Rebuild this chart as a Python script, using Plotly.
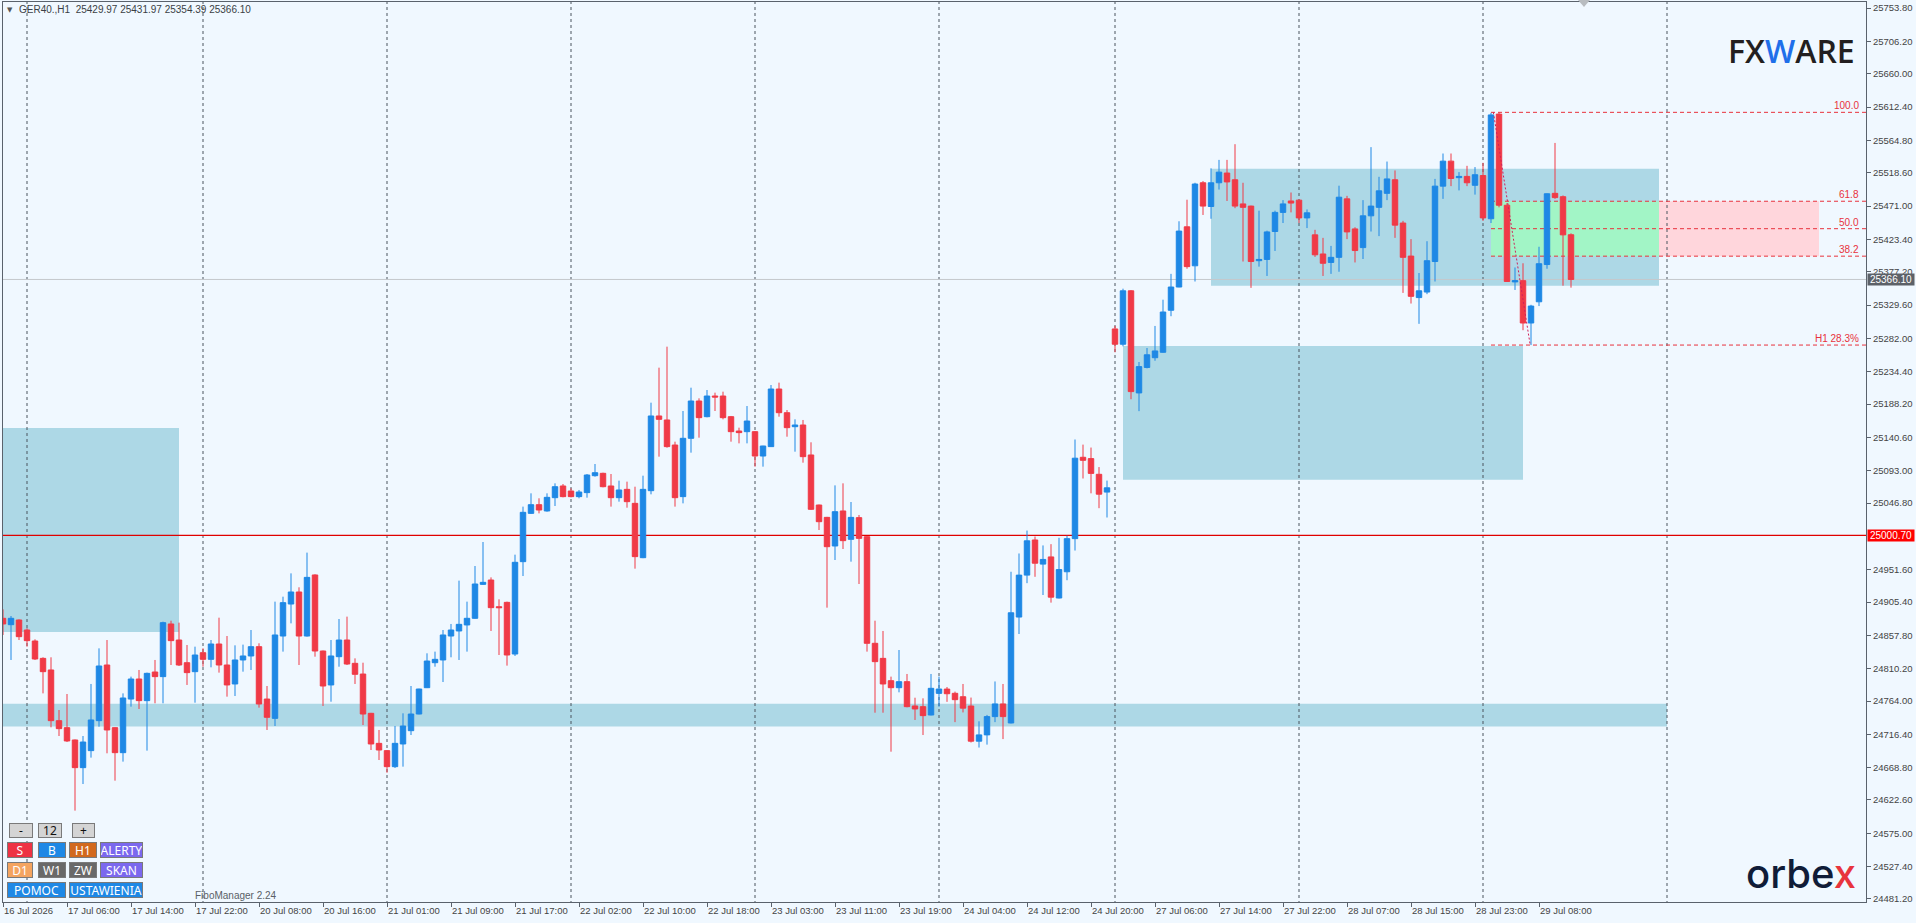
import plotly.graph_objects as go

# ---------------- DATA ----------------
opens = [24882.1, 24873.0, 24879.7, 24865.4, 24849.7, 24824.9, 24808.3, 24735.9, 24725.9, 24708.3,
         24668.8, 24693.1, 24735.9, 24815.4, 24725.9, 24690.2, 24766.8, 24795.4, 24764.5, 24805.4,
         24798.8, 24874.0, 24851.1, 24818.7, 24805.9, 24833.0, 24823.5, 24845.4, 24815.4, 24788.3,
         24822.6, 24828.3, 24841.6, 24766.8, 24739.2, 24856.8, 24902.5, 24919.7, 24856.8, 24944.0,
         24835.4, 24786.9, 24827.3, 24851.1, 24817.8, 24802.5, 24746.4, 24703.5, 24693.1, 24670.2,
         24702.6, 24721.6, 24745.4, 24783.0, 24818.7, 24822.6, 24856.8, 24864.0, 24872.6, 24882.1,
         24930.6, 24936.8, 24898.7, 24904.9, 24831.1, 24963.0, 25032.0, 25044.4, 25035.4, 25054.4,
         25071.1, 25063.9, 25055.9, 25061.6, 25085.8, 25089.2, 25071.1, 25054.4, 25066.3, 25046.3,
         24968.7, 25064.4, 25171.1, 25165.4, 25129.6, 25055.9, 25139.2, 25192.5, 25170.1, 25199.6,
         25199.6, 25170.1, 25149.6, 25148.7, 25148.7, 25113.9, 25127.3, 25209.6, 25175.8, 25155.8,
         25158.2, 25115.4, 25043.9, 25026.3, 24985.4, 25035.4, 24994.9, 25025.9, 24998.7, 24846.4,
         24824.9, 24793.0, 24783.0, 24791.6, 24756.9, 24755.9, 24744.0, 24774.9, 24781.0, 24775.0,
         24770.1, 24756.8, 24706.6, 24715.6, 24741.7, 24759.8, 24732.6, 24883.9, 24943.8, 24994.0,
         24959.5, 24969.8, 24911.1, 24948.6, 24995.9, 25112.1, 25110.2, 25087.8, 25062.4, 25295.4,
         25273.6, 25349.9, 25204.0, 25240.4, 25254.3, 25262.1, 25322.1, 25355.3, 25441.3, 25385.6,
         25504.2, 25470.3, 25504.2, 25518.1, 25508.5, 25474.0, 25470.9, 25392.9, 25394.7, 25434.6,
         25461.9, 25478.2, 25479.4, 25454.0, 25429.8, 25402.5, 25390.4, 25397.7, 25481.2, 25438.3,
         25411.6, 25457.0, 25469.1, 25489.1, 25508.5, 25446.7, 25399.5, 25340.2, 25348.1, 25391.7,
         25499.4, 25535.1, 25511.5, 25513.3, 25500.6, 25514.5, 25452.8, 25602.3, 25472.1, 25362.6,
         25364.4, 25303.9, 25334.2, 25387.4, 25489.1, 25484.3, 25429.97]

highs = [24894.9, 24885.4, 24880.5, 24867.8, 24852.1, 24826.4, 24826.4, 24751.1, 24774.0, 24709.0,
         24714.0, 24788.3, 24839.2, 24851.1, 24726.5, 24774.9, 24798.8, 24808.3, 24804.5, 24822.6,
         24877.3, 24878.7, 24875.9, 24844.0, 24841.6, 24839.2, 24851.1, 24883.0, 24856.8, 24843.5,
         24844.5, 24865.4, 24846.4, 24785.4, 24905.9, 24913.0, 24946.3, 24926.4, 24975.9, 24945.0,
         24836.0, 24851.1, 24881.1, 24884.5, 24824.9, 24818.7, 24747.0, 24722.6, 24694.0, 24728.3,
         24746.4, 24785.4, 24781.5, 24832.1, 24834.5, 24865.4, 24874.0, 24935.9, 24905.9, 24956.8,
         24991.1, 24940.6, 24909.2, 24905.9, 24973.0, 25041.6, 25060.6, 25053.5, 25060.6, 25074.9,
         25073.9, 25067.7, 25065.4, 25088.2, 25102.5, 25090.1, 25088.2, 25078.7, 25077.3, 25070.1,
         25085.8, 25190.1, 25240.1, 25270.1, 25134.4, 25178.2, 25211.5, 25196.3, 25208.2, 25204.4,
         25205.8, 25171.1, 25154.4, 25185.3, 25149.5, 25128.5, 25215.3, 25218.7, 25179.6, 25166.3,
         25165.4, 25133.5, 25044.5, 25027.0, 25072.0, 25074.9, 25048.2, 25029.7, 24999.5, 24878.7,
         24864.0, 24798.8, 24836.8, 24802.6, 24768.7, 24767.8, 24802.6, 24798.8, 24784.0, 24777.4,
         24788.3, 24768.9, 24735.0, 24744.1, 24791.9, 24788.3, 24948.6, 24974.7, 25007.4, 24998.9,
         24986.2, 24988.0, 24997.1, 25000.1, 25137.5, 25130.2, 25126.0, 25098.1, 25078.8, 25299.7,
         25352.9, 25351.0, 25248.2, 25268.2, 25299.7, 25337.2, 25374.1, 25449.2, 25480.0, 25504.2,
         25506.6, 25524.8, 25536.9, 25536.9, 25559.3, 25504.2, 25471.5, 25464.3, 25435.8, 25464.3,
         25479.4, 25490.3, 25480.0, 25466.1, 25437.0, 25425.5, 25414.0, 25500.0, 25485.5, 25440.7,
         25479.4, 25555.1, 25512.7, 25534.5, 25521.8, 25449.8, 25423.7, 25375.3, 25420.7, 25509.7,
         25546.0, 25546.0, 25519.4, 25528.4, 25526.6, 25532.7, 25604.1, 25604.8, 25475.2, 25383.2,
         25389.2, 25329.9, 25412.8, 25489.0, 25561.1, 25486.1, 25431.97]

lows = [24858.3, 24822.6, 24851.1, 24841.6, 24822.6, 24774.9, 24726.4, 24714.0, 24705.4, 24607.4,
        24645.4, 24683.1, 24727.3, 24689.3, 24650.2, 24677.4, 24755.9, 24752.6, 24693.1, 24760.7,
        24760.7, 24815.4, 24814.0, 24786.9, 24761.6, 24813.0, 24812.1, 24804.5, 24770.2, 24771.1,
        24805.9, 24808.3, 24754.5, 24722.6, 24728.3, 24834.5, 24874.9, 24815.4, 24856.0, 24827.3,
        24756.9, 24763.0, 24813.0, 24815.4, 24788.3, 24729.7, 24694.0, 24679.7, 24661.6, 24668.3,
        24670.2, 24715.4, 24745.0, 24782.5, 24813.0, 24791.1, 24826.4, 24822.6, 24834.5, 24881.5,
        24929.7, 24864.0, 24829.7, 24814.5, 24828.3, 24942.5, 25031.1, 25032.0, 25034.4, 25042.5,
        25054.9, 25054.9, 25053.5, 25054.4, 25084.4, 25069.2, 25041.6, 25048.7, 25040.1, 24953.0,
        24968.0, 25059.2, 25113.0, 25125.8, 25041.6, 25046.3, 25118.7, 25140.1, 25169.2, 25178.2,
        25166.3, 25134.4, 25132.0, 25132.0, 25098.7, 25098.7, 25127.0, 25170.1, 25141.5, 25120.1,
        25104.4, 25036.8, 25008.2, 24897.3, 24965.4, 24981.1, 24963.0, 24931.1, 24834.5, 24747.3,
        24747.3, 24691.6, 24776.4, 24755.0, 24736.9, 24715.4, 24743.5, 24755.9, 24762.8, 24733.8,
        24747.7, 24704.7, 24697.5, 24701.7, 24733.8, 24709.6, 24732.0, 24859.7, 24932.3, 24941.4,
        24915.4, 24904.5, 24910.5, 24936.5, 24978.9, 25081.8, 25060.6, 25039.4, 25026.1, 25262.1,
        25270.6, 25195.0, 25178.0, 25239.1, 25250.0, 25261.5, 25313.6, 25355.0, 25381.4, 25363.2,
        25458.2, 25452.8, 25494.5, 25478.2, 25467.9, 25391.7, 25354.1, 25384.4, 25371.1, 25406.8,
        25446.7, 25461.9, 25446.7, 25439.5, 25398.3, 25371.1, 25374.1, 25377.1, 25423.7, 25390.4,
        25395.3, 25434.6, 25428.0, 25479.4, 25425.5, 25346.9, 25331.7, 25302.7, 25345.1, 25363.2,
        25481.2, 25499.4, 25493.3, 25499.4, 25487.3, 25449.8, 25446.7, 25469.1, 25362.5, 25351.1,
        25293.6, 25272.4, 25328.1, 25381.4, 25481.2, 25357.2, 25354.39]

closes = [24874.0, 24882.1, 24855.9, 24850.2, 24824.0, 24805.9, 24735.9, 24724.5, 24706.9, 24668.8,
          24705.4, 24736.9, 24814.0, 24722.6, 24690.2, 24768.3, 24795.4, 24764.5, 24803.5, 24798.8,
          24875.9, 24850.2, 24815.4, 24804.5, 24829.7, 24823.5, 24845.4, 24815.4, 24786.9, 24822.6,
          24828.3, 24841.6, 24759.7, 24740.7, 24858.3, 24904.5, 24919.7, 24856.8, 24940.6, 24835.4,
          24785.4, 24828.3, 24851.1, 24816.8, 24802.1, 24745.4, 24702.6, 24694.0, 24670.2, 24703.5,
          24728.3, 24745.4, 24781.1, 24821.1, 24823.5, 24858.3, 24865.4, 24873.5, 24882.1, 24931.1,
          24933.5, 24897.3, 24897.3, 24829.7, 24962.1, 25033.5, 25044.4, 25036.8, 25054.9, 25070.1,
          25055.9, 25055.9, 25062.5, 25086.8, 25090.1, 25070.1, 25054.4, 25065.4, 25048.7, 24970.2,
          25066.3, 25171.1, 25166.3, 25127.3, 25054.4, 25139.2, 25192.5, 25168.7, 25199.6, 25198.2,
          25168.7, 25148.7, 25147.3, 25163.9, 25113.9, 25128.2, 25209.6, 25175.8, 25154.4, 25158.2,
          25113.0, 25037.8, 25020.1, 24984.4, 25034.4, 24993.0, 25026.3, 24996.3, 24846.4, 24820.2,
          24788.3, 24783.0, 24791.6, 24755.9, 24752.6, 24743.1, 24782.1, 24781.1, 24774.4, 24765.9,
          24753.8, 24706.6, 24715.6, 24741.7, 24759.8, 24741.7, 24890.0, 24943.8, 24992.8, 24960.8,
          24966.2, 24912.3, 24951.7, 24995.9, 25110.8, 25107.8, 25089.1, 25059.4, 25068.5, 25273.6,
          25349.9, 25205.9, 25241.6, 25258.5, 25264.0, 25319.6, 25355.3, 25435.2, 25384.4, 25502.4,
          25470.9, 25504.2, 25519.4, 25505.4, 25470.9, 25469.1, 25391.7, 25394.7, 25434.0, 25461.9,
          25474.0, 25475.2, 25454.0, 25461.3, 25401.3, 25389.2, 25397.7, 25483.6, 25434.0, 25407.4,
          25457.0, 25470.9, 25492.7, 25509.7, 25443.7, 25397.7, 25342.0, 25349.9, 25392.9, 25499.4,
          25535.1, 25510.3, 25513.3, 25504.2, 25515.7, 25454.0, 25601.1, 25472.1, 25363.2, 25364.4,
          25303.9, 25328.1, 25388.6, 25488.5, 25483.0, 25429.8, 25366.10]

x_labels = ["16 Jul 2026", "17 Jul 06:00", "17 Jul 14:00", "17 Jul 22:00", "20 Jul 08:00",
            "20 Jul 16:00", "21 Jul 01:00", "21 Jul 09:00", "21 Jul 17:00", "22 Jul 02:00",
            "22 Jul 10:00", "22 Jul 18:00", "23 Jul 03:00", "23 Jul 11:00", "23 Jul 19:00",
            "24 Jul 04:00", "24 Jul 12:00", "24 Jul 20:00", "27 Jul 06:00", "27 Jul 14:00",
            "27 Jul 22:00", "28 Jul 07:00", "28 Jul 15:00", "28 Jul 23:00", "29 Jul 08:00"]
x_label_bars = list(range(0, 8 * len(x_labels), 8))

y_ticks = [25753.80, 25706.20, 25660.00, 25612.40, 25564.80, 25518.60, 25471.00, 25423.40,
           25377.20, 25329.60, 25282.00, 25234.40, 25188.20, 25140.60, 25093.00, 25046.80,
           24951.60, 24905.40, 24857.80, 24810.20, 24764.00, 24716.40, 24668.80, 24622.60,
           24575.00, 24527.40, 24481.20]

day_separator_bars = [3, 25, 48, 71, 94, 117, 139, 162, 185, 208]

# zones: (bar_start, bar_end, price_low, price_high)
zones = [(-2, 22, 24862.6, 25153.9),
         (-2, 208, 24727.5, 24760.0),
         (140, 190, 25080.0, 25271.2),
         (151, 207, 25357.2, 25524.2)]

fib_start_bar = 186
fib_box_end_bar = 227
fib_high = 25604.8
fib_low = 25272.4
fib_ratios = [100.0, 61.8, 50.0, 38.2]
fib_low_label = "H1 28.3%"
trend_from = (186.3, 25604.8)
trend_to = (190.9, 25272.4)

level_red = 25000.70
level_last = 25366.10

header = "GER40.,H1  25429.97 25431.97 25354.39 25366.10"

# ---------------- STYLE ----------------
BG = "#F0F8FF"
BLUE = "#1E88E5"
RED = "#F03A47"
ZONE = "#ADD8E6"
FIBC = "#E8323C"
AXC = "#5A626C"
FONT = "Liberation Sans"

X_RANGE = [0, 232.875]
Y_RANGE = [24476.9, 25762.4]
L, R, T, B = 3, 50, 2, 21
W, H = 1916, 923
PW, PH = W - L - R, H - T - B


def px(x):
    return (x - L) / PW


def py(y):
    return (H - B - y) / PH


bars = list(range(len(opens)))

fig = go.Figure()
fig.add_trace(go.Candlestick(
    x=bars, open=opens, high=highs, low=lows, close=closes,
    increasing=dict(line=dict(color=BLUE, width=1), fillcolor=BLUE),
    decreasing=dict(line=dict(color=RED, width=1), fillcolor=RED),
    whiskerwidth=0, hoverinfo="skip", showlegend=False))

XL, XR = X_RANGE[0] - 3, X_RANGE[1] + 3
YB, YT = Y_RANGE[0] - 20, Y_RANGE[1] + 20

shapes = []
for x0, x1, y0, y1 in zones:
    shapes.append(dict(type="rect", xref="x", yref="y", x0=x0, x1=x1, y0=y0, y1=y1,
                       fillcolor=ZONE, line=dict(width=0), layer="below"))

fib_prices = [fib_low + (fib_high - fib_low) * r / 100.0 for r in fib_ratios]
lvl618 = fib_low + (fib_high - fib_low) * 0.618
lvl382 = fib_low + (fib_high - fib_low) * 0.382
upper_zone_end = zones[3][1]
shapes.append(dict(type="rect", xref="x", yref="y", x0=fib_start_bar, x1=upper_zone_end,
                   y0=lvl382, y1=lvl618, fillcolor="#A2F5C6", line=dict(width=0), layer="below"))
shapes.append(dict(type="rect", xref="x", yref="y", x0=upper_zone_end, x1=fib_box_end_bar,
                   y0=lvl382, y1=lvl618, fillcolor="#FFD6DC", line=dict(width=0), layer="below"))

for b in day_separator_bars:
    shapes.append(dict(type="line", xref="x", yref="y", x0=b, x1=b, y0=YB, y1=YT,
                       line=dict(color="#4A545E", width=1, dash="3px,3px"), layer="below"))

shapes.append(dict(type="line", xref="x", yref="y", x0=XL, x1=XR, y0=level_last, y1=level_last,
                   line=dict(color="#C4C8CC", width=1), layer="below"))
shapes.append(dict(type="line", xref="x", yref="y", x0=XL, x1=XR, y0=level_red, y1=level_red,
                   line=dict(color="#E00000", width=1.3), layer="below"))

for p in fib_prices + [fib_low]:
    shapes.append(dict(type="line", xref="x", yref="y", x0=fib_start_bar, x1=XR,
                       y0=p, y1=p, line=dict(color=FIBC, width=1, dash="4px,3px"), layer="below"))

shapes.append(dict(type="line", xref="x", yref="y", x0=trend_from[0], y0=trend_from[1],
                   x1=trend_to[0], y1=trend_to[1],
                   line=dict(color="#D0205A", width=1, dash="2px,2px"), layer="above"))

# chart-shift marker at top
tx = 1584
shapes.append(dict(type="path", xref="paper", yref="paper",
                   path=f"M {px(tx-6)},{py(0)} L {px(tx+6)},{py(0)} L {px(tx)},{py(7)} Z",
                   fillcolor="#B8BCC0", line=dict(width=0)))

annotations = []
for r, p in zip(fib_ratios, fib_prices):
    annotations.append(dict(x=px(1860), y=p, xref="paper", yref="y", text=f"{r:.1f}",
                            xanchor="right", yanchor="bottom", showarrow=False, borderpad=0,
                            font=dict(family=FONT, size=10, color=FIBC)))
annotations.append(dict(x=px(1860), y=fib_low, xref="paper", yref="y", text=fib_low_label,
                        xanchor="right", yanchor="bottom", showarrow=False, borderpad=0,
                        font=dict(family=FONT, size=10, color=FIBC)))

for val, col in [(level_red, "#FF0000"), (level_last, "#5C6168")]:
    annotations.append(dict(x=1, y=val, xref="paper", yref="y", text=f"{val:.2f}",
                            xanchor="left", yanchor="middle", xshift=1, showarrow=False,
                            bgcolor=col, width=46, height=11, borderpad=0,
                            font=dict(family=FONT, size=10, color="white")))

annotations.append(dict(x=px(5), y=py(10), xref="paper", yref="paper", text="▼",
                        xanchor="left", yanchor="middle", showarrow=False,
                        font=dict(family="DejaVu Sans", size=7, color="#555")))
annotations.append(dict(x=px(17), y=py(10), xref="paper", yref="paper", text=header,
                        xanchor="left", yanchor="middle", showarrow=False,
                        font=dict(family=FONT, size=10, color="#3A3F45")))

annotations.append(dict(x=px(1857), y=py(50), xref="paper", yref="paper",
                        text="FX<span style='color:#1F6FEA'>W</span>ARE",
                        xanchor="right", yanchor="middle", showarrow=False,
                        font=dict(family="Open Sans", size=32, color="#231F20", weight=600)))
annotations.append(dict(x=px(1858), y=py(873), xref="paper", yref="paper",
                        text="orbe<span style='color:#E8343D'>x</span>",
                        xanchor="right", yanchor="middle", showarrow=False,
                        font=dict(family="Inter", size=40, color="#101C38", weight=500)))

annotations.append(dict(x=px(193), y=py(895), xref="paper", yref="paper", text="FiboManager 2.24",
                        xanchor="left", yanchor="middle", showarrow=False,
                        font=dict(family=FONT, size=10, color="#5A5F66")))

buttons = [
    ("-", 9, 33, 823, 838, "#D4D4D4", "#111"), ("12", 38, 62, 823, 838, "#D4D4D4", "#111"),
    ("+", 72, 95, 823, 838, "#D4D4D4", "#111"),
    ("S", 7, 33, 842, 858, "#EE3344", "white"), ("B", 38, 66, 842, 858, "#1E88E5", "white"),
    ("H1", 69, 97, 842, 858, "#D2691E", "white"), ("ALERTY", 100, 143, 842, 858, "#7B68EE", "white"),
    ("D1", 7, 33, 862, 878, "#F4A460", "white"), ("W1", 38, 66, 862, 878, "#696969", "white"),
    ("ZW", 69, 97, 862, 878, "#696969", "white"), ("SKAN", 100, 143, 862, 878, "#7B68EE", "white"),
    ("POMOC", 7, 66, 882, 898, "#1E88E5", "white"), ("USTAWIENIA", 69, 143, 882, 898, "#1E88E5", "white"),
]
for txt, x0, x1, y0, y1, bg, fc in buttons:
    annotations.append(dict(x=px((x0 + x1) / 2), y=py((y0 + y1) / 2), xref="paper", yref="paper",
                            text=txt, xanchor="center", yanchor="middle", showarrow=False,
                            width=x1 - x0 - 2, height=y1 - y0 - 2, borderpad=0,
                            bgcolor=bg, bordercolor="#7A7A7A", borderwidth=1,
                            font=dict(family="Noto Sans", size=12, color=fc)))

fig.update_layout(
    width=W, height=H, margin=dict(l=L, r=R, t=T, b=B, autoexpand=False),
    paper_bgcolor=BG, plot_bgcolor=BG, showlegend=False, hovermode=False,
    boxgap=0.32, boxgroupgap=0,
    shapes=shapes, annotations=annotations,
    xaxis=dict(range=X_RANGE, showgrid=False, zeroline=False, tickmode="array",
               tickvals=x_label_bars, ticktext=x_labels, ticks="outside", ticklen=4,
               tickcolor=AXC, showline=True, linecolor=AXC, linewidth=1, mirror=True,
               ticklabelposition="outside right", automargin=False,
               tickfont=dict(family=FONT, size=9.5, color="#444"),
               rangeslider=dict(visible=False), fixedrange=True),
    yaxis=dict(range=Y_RANGE, side="right", showgrid=False, zeroline=False, tickmode="array",
               tickvals=y_ticks, ticktext=[f"{v:.2f}" for v in y_ticks], ticks="outside",
               ticklen=4, tickcolor=AXC, showline=True, linecolor=AXC, linewidth=1, mirror=True,
               automargin=False,
               tickfont=dict(family=FONT, size=9.5, color="#444"), fixedrange=True),
)

fig.write_html("out.html", config={"displayModeBar": False},
               post_script="document.body.style.margin='0';document.body.style.overflow='hidden';"
                           "document.body.style.background='" + BG + "';")
